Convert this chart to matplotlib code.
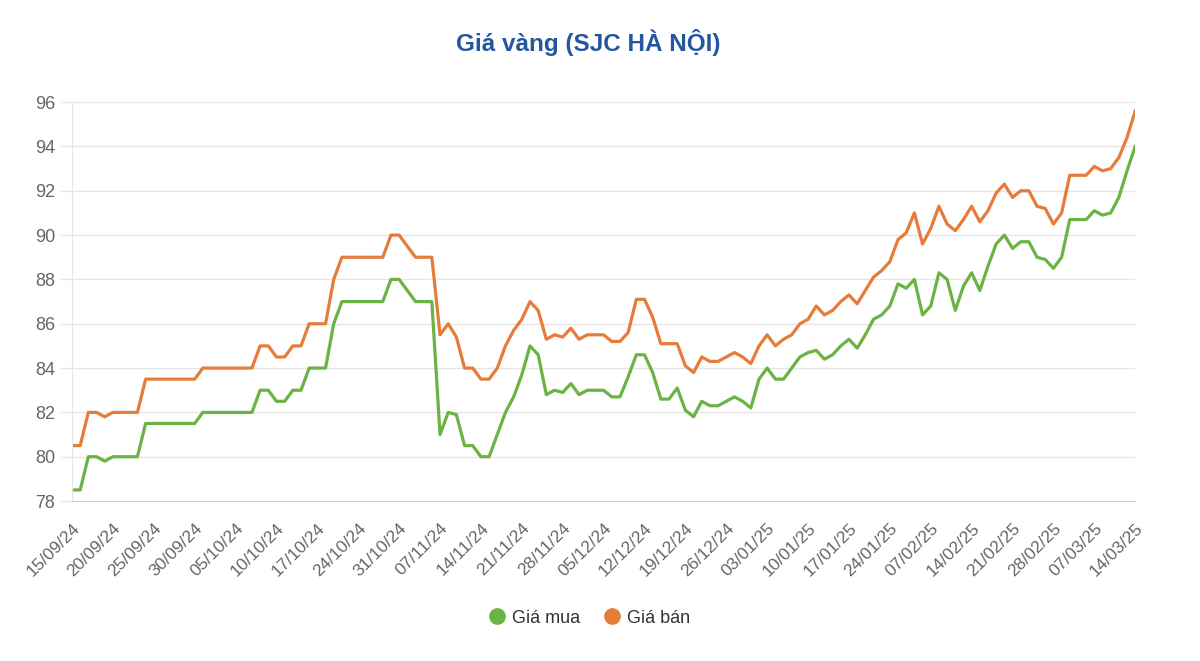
import matplotlib
matplotlib.use("Agg")
import matplotlib.pyplot as plt
from matplotlib.lines import Line2D
import numpy as np

plt.rcParams['font.family'] = ['Liberation Sans', 'DejaVu Sans']

# tick labels, one every 5 data points
tick_labels = ["15/09/24", "20/09/24", "25/09/24", "30/09/24", "05/10/24", "10/10/24",
               "17/10/24", "24/10/24", "31/10/24", "07/11/24", "14/11/24", "21/11/24",
               "28/11/24", "05/12/24", "12/12/24", "19/12/24", "26/12/24", "03/01/25",
               "10/01/25", "17/01/25", "24/01/25", "07/02/25", "14/02/25", "21/02/25",
               "28/02/25", "07/03/25", "14/03/25"]

gia_mua = [78.5, 78.5, 80, 80, 79.8, 80, 80, 80, 80, 81.5,
           81.5, 81.5, 81.5, 81.5, 81.5, 81.5, 82, 82, 82, 82,
           82, 82, 82, 83, 83, 82.5, 82.5, 83, 83, 84,
           84, 84, 86, 87, 87, 87, 87, 87, 87, 88,
           88, 87.5, 87, 87, 87, 81, 82, 81.9, 80.5, 80.5,
           80, 80, 81, 82, 82.7, 83.7, 85, 84.6, 82.8, 83,
           82.9, 83.3, 82.8, 83, 83, 83, 82.7, 82.7, 83.6, 84.6,
           84.6, 83.8, 82.6, 82.6, 83.1, 82.1, 81.8, 82.5, 82.3, 82.3,
           82.5, 82.7, 82.5, 82.2, 83.5, 84, 83.5, 83.5, 84, 84.5,
           84.7, 84.8, 84.4, 84.6, 85, 85.3, 84.9, 85.5, 86.2, 86.4,
           86.8, 87.8, 87.6, 88, 86.4, 86.8, 88.3, 88, 86.6, 87.7,
           88.3, 87.5, 88.6, 89.6, 90, 89.4, 89.7, 89.7, 89, 88.9,
           88.5, 89, 90.7, 90.7, 90.7, 91.1, 90.9, 91, 91.7, 92.9,
           94]

gia_ban = [80.5, 80.5, 82, 82, 81.8, 82, 82, 82, 82, 83.5,
           83.5, 83.5, 83.5, 83.5, 83.5, 83.5, 84, 84, 84, 84,
           84, 84, 84, 85, 85, 84.5, 84.5, 85, 85, 86,
           86, 86, 88, 89, 89, 89, 89, 89, 89, 90,
           90, 89.5, 89, 89, 89, 85.5, 86, 85.4, 84, 84,
           83.5, 83.5, 84, 85, 85.7, 86.2, 87, 86.6, 85.3, 85.5,
           85.4, 85.8, 85.3, 85.5, 85.5, 85.5, 85.2, 85.2, 85.6, 87.1,
           87.1, 86.3, 85.1, 85.1, 85.1, 84.1, 83.8, 84.5, 84.3, 84.3,
           84.5, 84.7, 84.5, 84.2, 85, 85.5, 85, 85.3, 85.5, 86,
           86.2, 86.8, 86.4, 86.6, 87, 87.3, 86.9, 87.5, 88.1, 88.4,
           88.8, 89.8, 90.1, 91, 89.6, 90.3, 91.3, 90.5, 90.2, 90.7,
           91.3, 90.6, 91.1, 91.9, 92.3, 91.7, 92, 92, 91.3, 91.2,
           90.5, 91, 92.7, 92.7, 92.7, 93.1, 92.9, 93, 93.5, 94.4,
           95.6]

green = '#6ab344'
orange = '#e57c3a'
text_gray = '#666666'

fig = plt.figure(figsize=(12, 6.61), dpi=100)
ax = fig.add_axes([0.06, 0.242, 0.886, 0.6035])

x = np.arange(len(gia_mua))
ax.plot(x, gia_mua, color=green, lw=2.3, solid_joinstyle='round')
ax.plot(x, gia_ban, color=orange, lw=2.3, solid_joinstyle='round')

ax.set_xlim(0, len(gia_mua) - 1)
ax.set_ylim(78, 96)
ax.set_yticks(np.arange(78, 97, 2))
ax.set_xticks(np.arange(0, len(gia_mua), 5))
ax.set_xticklabels(tick_labels, rotation=45, ha='right', rotation_mode='anchor')

ax.grid(axis='y', color='#e6e6e6', lw=1)
ax.set_axisbelow(True)
for s in ['top', 'right']:
    ax.spines[s].set_visible(False)
ax.spines['left'].set_color('#e6e6e6')
ax.spines['bottom'].set_color('#cccccc')
ax.tick_params(axis='y', colors='#e6e6e6', labelcolor=text_gray, labelsize=13,
               length=8.5, width=1, pad=3.5)
ax.tick_params(axis='x', length=0, labelcolor=text_gray, labelsize=12.5, pad=14)

fig.text(0.49, 0.936, "Giá vàng (SJC HÀ NỘI)", ha='center', va='center',
         fontsize=17.5, fontweight='bold', color='#2556a0')

handles = [Line2D([], [], ls='none', marker='o', ms=11, color=green),
           Line2D([], [], ls='none', marker='o', ms=11, color=orange)]
fig.legend(handles, ["Giá mua", "Giá bán"], loc='center', bbox_to_anchor=(0.49, 0.065),
           ncol=2, frameon=False, fontsize=13, labelcolor='#333333',
           handletextpad=0.2, columnspacing=1.2, handlelength=1.2)

fig.savefig('out.png', dpi=100)
